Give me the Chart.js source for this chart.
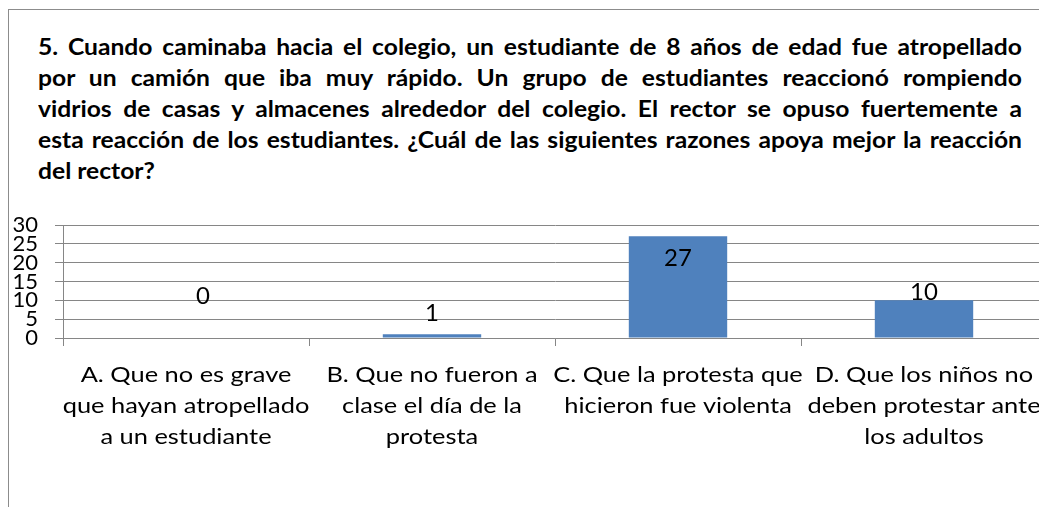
<!DOCTYPE html>
<html>
<head>
<meta charset="utf-8">
<script src="https://cdn.jsdelivr.net/npm/chart.js@4/dist/chart.umd.min.js"></script>
<style>
  html,body{margin:0;padding:0;width:1039px;height:507px;overflow:hidden;background:#fff;}
  #marco{position:absolute;left:8px;top:9px;width:1100px;height:600px;border-left:1px solid #8c8c8c;border-top:1px solid #8c8c8c;}
  #pregunta{position:absolute;left:38px;top:31px;font:bold 22px Lato,sans-serif;line-height:31px;color:#000;
            transform:scaleX(1.12);transform-origin:0 0;}
  #pregunta span{display:block;white-space:nowrap;width:max-content;}
  #grafico{position:absolute;left:0;top:0;}
</style>
</head>
<body>
<div id="marco"></div>
<div id="pregunta">
  <span class="j">5. Cuando caminaba hacia el colegio, un estudiante de 8 años de edad fue atropellado</span>
  <span class="j">por un camión que iba muy rápido. Un grupo de estudiantes reaccionó rompiendo</span>
  <span class="j">vidrios de casas y almacenes alrededor del colegio. El rector se opuso fuertemente a</span>
  <span class="j">esta reacción de los estudiantes. ¿Cuál de las siguientes razones apoya mejor la reacción</span>
  <span>del rector?</span>
</div>
<canvas id="grafico" width="1060" height="507"></canvas>
<script>
/* datos */
const opciones = [
  ['A. Que no es grave','que hayan atropellado','a un estudiante'],
  ['B. Que no fueron a','clase el día de la','protesta'],
  ['C. Que la protesta que','hicieron fue violenta'],
  ['D. Que los niños no','deben protestar ante','los adultos']
];
const respuestas = [0, 1, 27, 10];

// desplazamiento de cada etiqueta respecto al tope de su barra
const etiquetaDx = [17, 0, 0, 0];
const etiquetaDy = [-42, -21, 22, -8];

const GRIS = '#868686';
const AZUL = '#4F81BD';
const ESTIRADO = 1.21;

/* justificar las líneas del enunciado repartiendo el espacio entre palabras */
(function(){
  const escala = 1.12, ancho = 984 / escala;
  document.querySelectorAll('#pregunta .j').forEach(l => {
    const huecos = l.textContent.split(' ').length - 1;
    const sobra = ancho - l.getBoundingClientRect().width / escala;
    l.style.wordSpacing = (sobra / huecos) + 'px';
  });
})();

// eje de categorías con las etiquetas estiradas a lo ancho
class CategoriaAncha extends Chart.CategoryScale {
  drawLabels(area){
    const ctx = this.ctx;
    const fill = ctx.fillText;
    ctx.fillText = function(t, x, y){
      this.save();
      this.translate(x, y);
      this.scale(ESTIRADO, 1);
      fill.call(this, t, 0, 0);
      this.restore();
    };
    super.drawLabels(area);
    delete ctx.fillText;
  }
}
CategoriaAncha.id = 'categoriaAncha';
CategoriaAncha.defaults = Chart.CategoryScale.defaults;
Chart.register(CategoriaAncha);

const etiquetasValor = {
  id: 'etiquetasValor',
  afterDatasetsDraw(chart){
    const ctx = chart.ctx;
    const meta = chart.getDatasetMeta(0);
    ctx.save();
    ctx.font = '24px Lato, sans-serif';
    ctx.fillStyle = '#000';
    ctx.textAlign = 'center';
    ctx.textBaseline = 'middle';
    meta.data.forEach((bar, i) => {
      ctx.fillText(String(respuestas[i]), bar.x + etiquetaDx[i], bar.y + etiquetaDy[i]);
    });
    ctx.restore();
  }
};

new Chart(document.getElementById('grafico'), {
  type: 'bar',
  data: {
    labels: opciones,
    datasets: [{
      data: respuestas,
      backgroundColor: AZUL,
      borderWidth: 0,
      barPercentage: 0.4,
      categoryPercentage: 1
    }]
  },
  options: {
    responsive: false,
    animation: false,
    devicePixelRatio: 1,
    layout: { padding: { top: 225, right: 13, bottom: 0, left: 0 } },
    plugins: { legend: { display: false }, tooltip: { enabled: false } },
    scales: {
      x: {
        type: 'categoriaAncha',
        afterFit(s){ s.height = 169; },
        grid: { display: true, drawOnChartArea: false, offset: true, tickLength: 8, color: GRIS },
        border: { color: GRIS },
        ticks: {
          color: '#000',
          font: { family: 'Lato', size: 21, lineHeight: 1.48 },
          padding: 14,
          maxRotation: 0,
          minRotation: 0,
          autoSkip: false
        }
      },
      y: {
        min: 0,
        max: 30,
        afterFit(s){ s.width = 63; },
        grid: { color: GRIS, tickLength: 8 },
        border: { color: GRIS },
        ticks: {
          stepSize: 5,
          autoSkip: false,
          color: '#000',
          font: { family: 'Lato', size: 22 },
          padding: 17
        }
      }
    }
  },
  plugins: [etiquetasValor]
});
</script>
</body>
</html>
